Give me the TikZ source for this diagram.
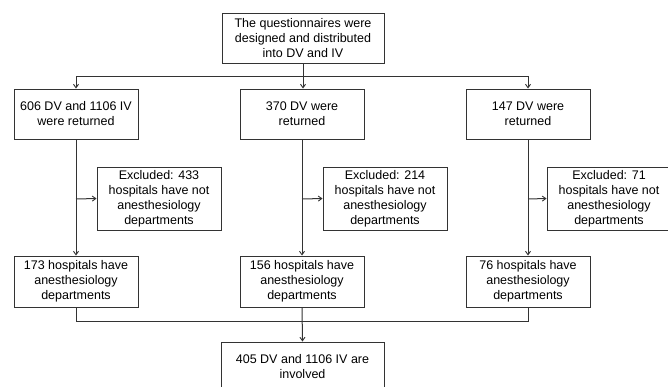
\documentclass[tikz,border=0pt]{standalone}
\usepackage{fontspec}
\setmainfont{Liberation Sans}
\usetikzlibrary{arrows.meta}
\begin{document}
\begin{tikzpicture}[x=1pt,y=-1pt,
  box/.style={draw=black!80,line width=1pt,inner sep=0pt,align=center,
    font=\fontsize{12.5}{15}\selectfont,text=black,minimum width=124pt},
  conn/.style={draw=black!80,line width=1pt},
  arr/.style={conn,-{Straight Barb[length=3.5pt,width=5pt,line width=0.9pt]}}]
\useasboundingbox (0,0) rectangle (668,386);
\clip (0,0) rectangle (668,386);
\fill[white] (0,0) rectangle (668,386);
% nodes
\node[box,minimum width=162pt,minimum height=50pt] (top) at (303,38)
  {The questionnaires were\\designed and distributed\\into DV and IV};
\node[box,minimum height=50pt] (r1a) at (76,114) {606 DV and 1106 IV\\were returned};
\node[box,minimum height=50pt] (r1b) at (302,114) {370 DV were\\returned};
\node[box,minimum height=50pt] (r1c) at (528,114) {147 DV were\\returned};
\node[box,minimum height=63pt] (exa) at (159,198.5) {Excluded: 433\\hospitals have not\\anesthesiology\\departments};
\node[box,minimum height=63pt] (exb) at (385,198.5) {Excluded: 214\\hospitals have not\\anesthesiology\\departments};
\node[box,minimum height=63pt] (exc) at (609,198.5) {Excluded: 71\\hospitals have not\\anesthesiology\\departments};
\node[box,minimum height=51pt] (r3a) at (76,281.5) {173 hospitals have\\anesthesiology\\departments};
\node[box,minimum height=51pt] (r3b) at (302,281.5) {156 hospitals have\\anesthesiology\\departments};
\node[box,minimum height=51pt] (r3c) at (528,281.5) {76 hospitals have\\anesthesiology\\departments};
\node[box,minimum width=163pt,minimum height=50pt] (fin) at (302.5,367) {405 DV and 1106 IV are\\involved};
% coordinates
\coordinate (split) at (303,76);
\coordinate (sl) at (76,76);
\coordinate (sr) at (528,76);
\coordinate (ja) at (76,199);
\coordinate (jb) at (302,199);
\coordinate (jc) at (528,199);
\coordinate (ml) at (76,321);
\coordinate (mr) at (528,321);
% connectors
\draw[conn] (top.south) -- (split);
\draw[conn] (sl) -- (sr);
\draw[arr] (sl) -- (r1a.north);
\draw[arr] (split) -- (split |- r1b.north);
\draw[arr] (sr) -- (r1c.north);
\draw[arr] (r1a.south) -- (r3a.north);
\draw[arr] (r1b.south) -- (r3b.north);
\draw[arr] (r1c.south) -- (r3c.north);
\draw[arr] (ja) -- (exa.west);
\draw[arr] (jb) -- (exb.west);
\draw[arr] (jc) -- (exc.west);
\draw[conn] (r3a.south) -- (ml) -- (mr) -- (r3c.south);
\draw[arr] (r3b.south) -- (fin.north);
\end{tikzpicture}
\end{document}
